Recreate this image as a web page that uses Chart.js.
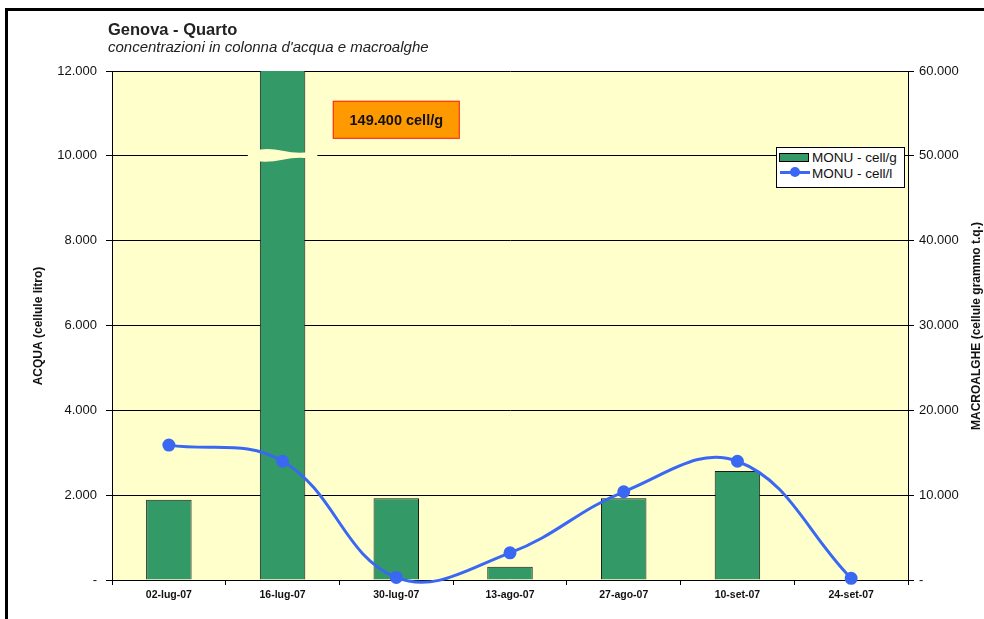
<!DOCTYPE html>
<html>
<head>
<meta charset="utf-8">
<script src="https://cdn.jsdelivr.net/npm/chart.js@4/dist/chart.umd.min.js"></script>
<style>
  html, body { margin:0; padding:0; background:#fff; }
  body { width:984px; height:619px; position:relative; overflow:hidden; font-family:"Liberation Sans", Arial, sans-serif; }
  #frame { position:absolute; left:5px; top:8px; width:1200px; height:800px; border-left:3px solid #000; border-top:3px solid #000; box-sizing:border-box; }
  #wrap { position:absolute; left:0; top:0; width:984px; height:619px; }
  #t1 { position:absolute; left:108px; top:20px; font-size:16.5px; font-weight:bold; color:#222; }
  #t2 { position:absolute; left:108px; top:38px; font-size:15px; font-style:italic; color:#222; }
  #legend { position:absolute; left:776px; top:147px; width:129px; height:41px; background:#fff; border:1px solid #000; box-sizing:border-box; font-size:13.5px; color:#111; }
  #legend div { position:absolute; left:35px; white-space:nowrap; line-height:16px; }
  .sw { position:absolute; }
</style>
</head>
<body>
<div id="frame"></div>
<div id="wrap"><canvas id="c" width="984" height="619"></canvas></div>
<div id="t1">Genova - Quarto</div>
<div id="t2">concentrazioni in colonna d'acqua e macroalghe</div>
<div id="legend">
  <span class="sw" style="left:2px;top:5px;width:30px;height:9px;background:#339966;border:1px solid #000;box-sizing:border-box;"></span>
  <div style="top:2px;">MONU - cell/g</div>
  <span class="sw" style="left:3px;top:23px;width:30px;height:2.5px;background:#3a68f2;"></span>
  <span class="sw" style="left:13px;top:19px;width:10px;height:10px;border-radius:50%;background:#3a68f2;"></span>
  <div style="top:18px;">MONU - cell/l</div>
</div>
<script>
const dates = ['02-lug-07','16-lug-07','30-lug-07','13-ago-07','27-ago-07','10-set-07','24-set-07'];
const cellG = [9450, 149400, 9650, 1550, 9650, 12850, 0];   // macroalghe (right axis)
const cellL = [3180, 2800, 60, 640, 2080, 2800, 40];          // acqua (left axis)
const leftTicks = [0, 2000, 4000, 6000, 8000, 10000, 12000];
const rightTicks = [0, 10000, 20000, 30000, 40000, 50000, 60000];
const noteText = '149.400 cell/g';

const fmt = v => v === 0 ? '-' : String(v).replace(/\B(?=(\d{3})+(?!\d))/g, '.');
const PLOT_BG = '#FFFFCC';
const FAM = '"Liberation Sans", Arial, sans-serif';

const extras = {
  id: 'extras',
  beforeDraw(chart){
    const {ctx, chartArea:a} = chart;
    ctx.save();
    ctx.fillStyle = PLOT_BG;
    ctx.fillRect(a.left, a.top, a.right - a.left, a.bottom - a.top);
    ctx.restore();
  },
  afterDatasetsDraw(chart){
    const {ctx, scales} = chart;
    // axis break on the tall bar
    const bar = chart.getDatasetMeta(1).data[1];
    const cx = bar.x, half = bar.width / 2 + 12;
    const yc = scales.y.getPixelForValue(10000);
    ctx.save();
    ctx.fillStyle = PLOT_BG;
    ctx.beginPath();
    ctx.moveTo(cx - half, yc - 4);
    ctx.quadraticCurveTo(cx - half/2, yc - 9, cx, yc - 5);
    ctx.quadraticCurveTo(cx + half/2, yc - 1, cx + half, yc - 5);
    ctx.lineTo(cx + half, yc + 4);
    ctx.quadraticCurveTo(cx + half/2, yc, cx, yc + 4);
    ctx.quadraticCurveTo(cx - half/2, yc + 8, cx - half, yc + 4);
    ctx.closePath();
    ctx.fill();
    // note box
    const nx = scales.x.getPixelForValue(2), ny = scales.y.getPixelForValue(10850);
    const w = 127, h = 38;
    ctx.fillStyle = '#FF9900';
    ctx.fillRect(nx - w/2, ny - h/2, w, h);
    ctx.strokeStyle = '#ff2020';
    ctx.lineWidth = 1;
    ctx.strokeRect(nx - w/2 + 0.5, ny - h/2 + 0.5, w - 1, h - 1);
    ctx.fillStyle = '#111';
    ctx.font = 'bold 14.5px ' + FAM;
    ctx.textAlign = 'center'; ctx.textBaseline = 'middle';
    ctx.fillText(noteText, nx, ny + 1);
    ctx.restore();
  },
  afterDraw(chart){
    const {ctx} = chart;
    const mid = 326;
    const titles = [['ACQUA (cellule litro)', 39], ['MACROALGHE (cellule grammo t.q.)', 977]];
    for (const [txt, x] of titles) {
      ctx.save();
      ctx.fillStyle = '#111';
      ctx.font = 'bold 12px ' + FAM;
      ctx.textAlign = 'center'; ctx.textBaseline = 'middle';
      ctx.translate(x, mid); ctx.rotate(-Math.PI/2);
      ctx.fillText(txt, 0, 0);
      ctx.restore();
    }
  }
};

const tickFont = {family:FAM, size:13};

new Chart(document.getElementById('c'), {
  data: {
    labels: dates,
    datasets: [
      { type:'line', label:'MONU - cell/l', data:cellL, yAxisID:'y', order:0,
        borderColor:'#3a68f2', backgroundColor:'#3a68f2', borderWidth:3,
        pointRadius:5, pointStyle:'circle', tension:0.4, clip:false },
      { type:'bar', label:'MONU - cell/g', data:cellG, yAxisID:'y2', order:1,
        backgroundColor:'#339966', borderColor:'#1a1a1a', borderWidth:1,
        barPercentage:0.4, categoryPercentage:1.0 }
    ]
  },
  options: {
    responsive:false, animation:false,
    layout:{ padding:{ top:71, left:0, right:0, bottom:0 } },
    elements:{ line:{ capBezierPoints:false } },
    plugins:{ legend:{display:false}, tooltip:{enabled:false} },
    scales:{
      x:{ offset:true,
        grid:{ offset:true, drawOnChartArea:false, tickLength:5, color:'#000' },
        border:{ color:'#000' },
        ticks:{ color:'#111', font:{family:FAM, size:10.5, weight:'bold'}, maxRotation:0, padding:4 },
        afterFit:s => { s.height = 39; } },
      y:{ position:'left', min:0, max:12000,
        afterBuildTicks:s => { s.ticks = leftTicks.map(v => ({value:v})); },
        ticks:{ callback:fmt, color:'#111', font:tickFont, padding:9 },
        grid:{ color:'#000', tickLength:6 },
        border:{ color:'#000' },
        afterFit:s => { s.width = 112; } },
      y2:{ position:'right', min:0, max:60000,
        afterBuildTicks:s => { s.ticks = rightTicks.map(v => ({value:v})); },
        ticks:{ callback:fmt, color:'#111', font:tickFont, padding:5 },
        grid:{ drawOnChartArea:false, color:'#000', tickLength:6 },
        border:{ color:'#000' },
        afterFit:s => { s.width = 76; } }
    }
  },
  plugins:[extras]
});
</script>
</body>
</html>
